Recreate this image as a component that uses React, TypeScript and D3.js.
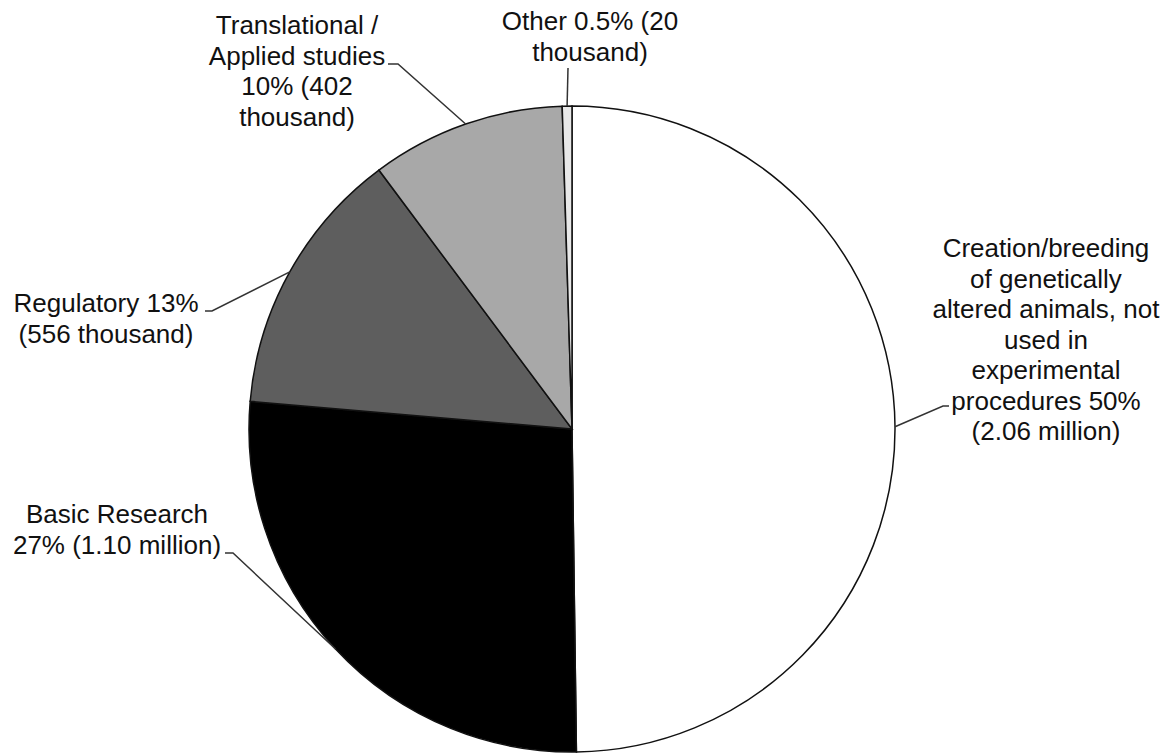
import React from "react";
import * as d3 from "d3";

const categories = [
  "Creation/breeding of genetically altered animals, not used in experimental procedures",
  "Basic Research",
  "Regulatory",
  "Translational / Applied studies",
  "Other",
];
const valuesThousands = [2060, 1100, 556, 402, 20];
const labelLines = [
  ["Creation/breeding", "of genetically", "altered animals, not", "used in", "experimental", "procedures 50%", "(2.06 million)"],
  ["Basic Research", "27% (1.10 million)"],
  ["Regulatory 13%", "(556 thousand)"],
  ["Translational /", "Applied studies", "10% (402", "thousand)"],
  ["Other 0.5% (20", "thousand)"],
];
const sliceColors = ["#ffffff", "#000000", "#5e5e5e", "#a8a8a8", "#e8e8e8"];

// layout (label placement, not data)
const W = 1171;
const H = 754;
const CX = 572;
const CY = 429;
const R = 323;
const labelLayout = [
  { x: 1046, y0: 257, elbow: [943, 406], end: [949, 406] },
  { x: 117, y0: 523, elbow: [233, 553], end: [225, 553] },
  { x: 106, y0: 312, elbow: [212, 311], end: [205, 311] },
  { x: 297, y0: 34, elbow: [398, 64], end: [388, 64] },
  { x: 590, y0: 30, elbow: [568, 68], end: [568, 68] },
];
const LINE_H = 30.5;

export default function App() {
  const pie = d3
    .pie<number>()
    .sort(null)
    .value((d) => d);
  const arcs = pie(valuesThousands);
  const arc = d3.arc<d3.PieArcDatum<number>>().innerRadius(0).outerRadius(R);

  return (
    <svg
      width={W}
      height={H}
      style={{ position: "absolute", left: 0, top: 0, background: "#fff" }}
      fontFamily="'Liberation Sans', Arial, sans-serif"
    >
      <rect width={W} height={H} fill="#fff" />
      <g transform={`translate(${CX},${CY})`}>
        {arcs.map((a, i) => (
          <path
            key={categories[i]}
            d={arc(a) || ""}
            fill={sliceColors[i]}
            stroke="#111"
            strokeWidth={1.5}
          />
        ))}
      </g>
      {arcs.map((a, i) => {
        const mid = (a.startAngle + a.endAngle) / 2;
        const px = CX + R * Math.sin(mid);
        const py = CY - R * Math.cos(mid);
        const L = labelLayout[i];
        const pts: [number, number][] = [[px, py], L.elbow as [number, number], L.end as [number, number]];
        return (
          <path
            key={"l" + i}
            d={d3.line()(pts) || ""}
            fill="none"
            stroke="#333"
            strokeWidth={1.5}
          />
        );
      })}
      {labelLines.map((lines, i) => (
        <text
          key={"t" + i}
          textAnchor="middle"
          fontSize={26}
          fill="#111"
        >
          {lines.map((ln, j) => (
            <tspan key={j} x={labelLayout[i].x} y={labelLayout[i].y0 + j * LINE_H}>
              {ln}
            </tspan>
          ))}
        </text>
      ))}
    </svg>
  );
}
